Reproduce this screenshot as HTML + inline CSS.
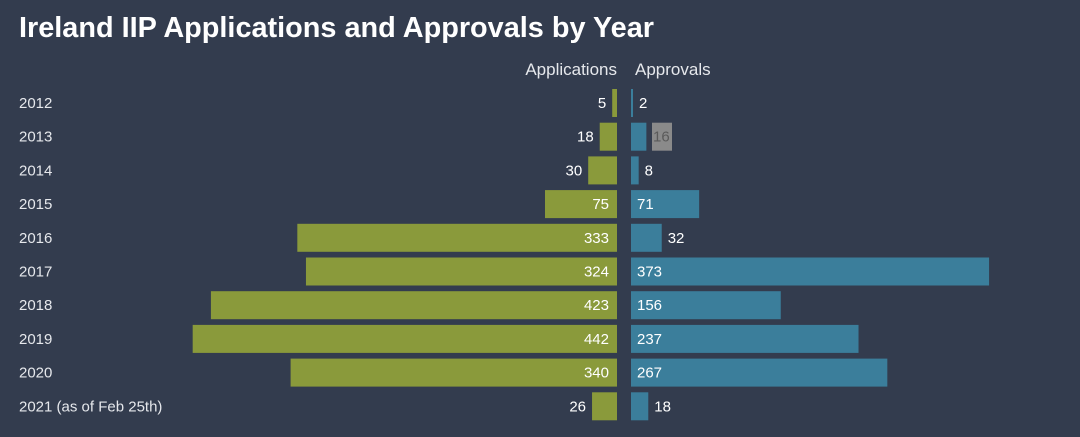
<!DOCTYPE html>
<html><head><meta charset="utf-8"><style>
html,body{margin:0;padding:0;background:#333c4e;}
svg{display:block;font-family:"Liberation Sans",Arial,sans-serif;}
</style></head><body>
<svg width="1080" height="437" xmlns="http://www.w3.org/2000/svg">
<rect width="1080" height="437" fill="#333c4e"/>
<text x="19" y="37" fill="#fff" font-size="29" font-weight="bold" textLength="635" lengthAdjust="spacingAndGlyphs">Ireland IIP Applications and Approvals by Year</text>
<text x="617" y="75" fill="#e6e8ec" font-size="17" text-anchor="end">Applications</text>
<text x="635" y="75" fill="#e6e8ec" font-size="17">Approvals</text>
<g id="rows" font-size="15"></g>
</svg>
<script>
var d=[["2012",5,2],["2013",18,16],["2014",30,8],["2015",75,71],["2016",333,32],["2017",324,373],["2018",423,156],["2019",442,237],["2020",340,267],["2021 (as of Feb 25th)",26,18]];
var g=document.getElementById('rows'),s='',k=0.96;
d.forEach(function(r,i){
 var c=103+i*33.7,t=c-14,a=Math.max(r[1]*k,3),b=Math.max(r[2]*k,2),ty=c+5;
 s+='<text x="19" y="'+ty+'" fill="#e6e8ec">'+r[0]+'</text>';
 s+='<rect x="'+(617-a)+'" y="'+t+'" width="'+a+'" height="28" fill="#8a9a3b"/>';
 s+='<rect x="631" y="'+t+'" width="'+b+'" height="28" fill="#3b7e9b"/>';
 if(a>40) s+='<text x="609" y="'+ty+'" fill="#fff" text-anchor="end">'+r[1]+'</text>';
 else s+='<text x="'+(617-a-6)+'" y="'+ty+'" fill="#fff" text-anchor="end">'+r[1]+'</text>';
 if(r[2]==16){s+='<rect x="652" y="'+t+'" width="20" height="28" fill="#8a8a8a"/><text x="653" y="'+ty+'" fill="#5a5a5a">16</text>';}
 else if(b>40) s+='<text x="637" y="'+ty+'" fill="#fff">'+r[2]+'</text>';
 else s+='<text x="'+(631+b+6)+'" y="'+ty+'" fill="#fff">'+r[2]+'</text>';
});
g.innerHTML=s;
</script>
</body></html>
